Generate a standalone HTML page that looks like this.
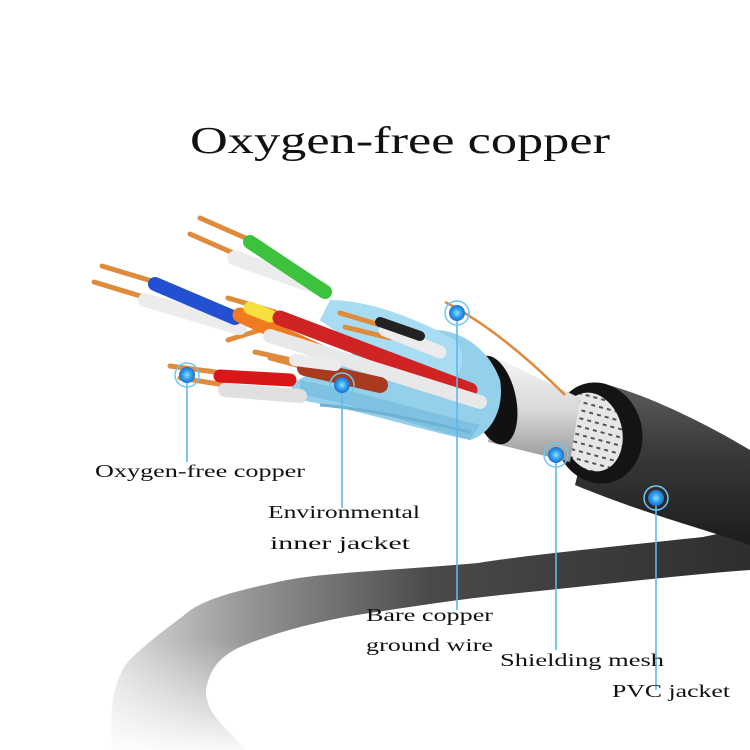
<!DOCTYPE html>
<html><head><meta charset="utf-8"><style>
html,body{margin:0;padding:0;background:#fff;}
svg{display:block;}
text{font-family:"Liberation Serif","DejaVu Serif",serif;fill:#111;}
</style></head><body>
<svg width="750" height="750" viewBox="0 0 750 750" xmlns="http://www.w3.org/2000/svg">
<defs>
<linearGradient id="band" x1="750" y1="0" x2="110" y2="0" gradientUnits="userSpaceOnUse">
<stop offset="0" stop-color="#2e2e2e"/><stop offset="0.5" stop-color="#4a4a4a"/><stop offset="0.8" stop-color="#9a9a9a"/><stop offset="1" stop-color="#e0e0e0"/>
</linearGradient>
<linearGradient id="fade" x1="0" y1="640" x2="0" y2="750" gradientUnits="userSpaceOnUse">
<stop offset="0" stop-color="#fff" stop-opacity="0"/><stop offset="1" stop-color="#fff" stop-opacity="0.95"/>
</linearGradient>
<linearGradient id="tube" x1="0" y1="390" x2="0" y2="540" gradientUnits="userSpaceOnUse">
<stop offset="0" stop-color="#5a5a5a"/><stop offset="0.4" stop-color="#3a3a3a"/><stop offset="1" stop-color="#1e1e1e"/>
</linearGradient>
<linearGradient id="silver" x1="0" y1="360" x2="0" y2="460" gradientUnits="userSpaceOnUse">
<stop offset="0" stop-color="#f4f4f4"/><stop offset="0.5" stop-color="#d8d8d8"/><stop offset="1" stop-color="#9a9a9a"/>
</linearGradient>
<radialGradient id="dot"><stop offset="0" stop-color="#8fe0ff"/><stop offset="0.6" stop-color="#2a9be8"/><stop offset="1" stop-color="#1f6fd0"/></radialGradient>
<pattern id="mesh" width="8" height="8" patternUnits="userSpaceOnUse" patternTransform="rotate(30)">
<rect width="8" height="8" fill="#e6e6e6"/><rect x="1" y="3" width="4" height="2" fill="#555"/>
</pattern>
</defs>

<path d="M750 527 L703 537 C600 548 520 556 478 563 C400 570 330 572 287 580 C230 592 200 600 182 617 C150 640 128 660 124 667 C112 690 110 710 112 750 L245 750 C230 730 205 715 206 690 C210 665 225 652 250 643 C290 628 320 622 345 617 C420 605 470 598 510 594 C600 585 680 575 750 570 Z" fill="url(#band)"/>
<rect x="0" y="640" width="750" height="110" fill="url(#fade)"/>

<path d="M600 383 C640 392 700 420 750 450 L750 545 C700 528 640 512 575 485 Z" fill="url(#tube)"/>
<ellipse cx="598" cy="433" rx="44" ry="51" transform="rotate(-15 598 433)" fill="#141414"/>
<ellipse cx="592" cy="432" rx="30" ry="40" transform="rotate(-15 592 432)" fill="url(#mesh)"/>

<path d="M497 358 L580 398 L570 462 L488 442 Z" fill="url(#silver)"/>
<ellipse cx="494" cy="400" rx="22" ry="45" transform="rotate(-12 494 400)" fill="#111"/>

<path d="M290 385 C330 360 380 340 430 330 C460 328 490 350 500 380 C505 410 490 435 470 440 C420 430 360 410 300 400 Z" fill="#94d0ea"/>
<path d="M330 300 C370 300 420 320 455 340 C470 360 460 380 440 385 C400 370 360 350 320 320 Z" fill="#a7dcf2"/>
<path d="M300 395 C340 400 400 420 470 440 L480 425 C420 410 360 392 300 380 Z" fill="#7fc1e0"/>
<path d="M320 405 C360 408 420 420 470 432" stroke="#6fb2d4" stroke-width="3" fill="none"/>

<g stroke="#e08a3c" stroke-width="5" stroke-linecap="round">
<line x1="200" y1="218" x2="250" y2="240"/><line x1="190" y1="234" x2="240" y2="256"/>
<line x1="102" y1="266" x2="155" y2="282"/><line x1="94" y1="282" x2="147" y2="298"/>
<line x1="228" y1="298" x2="275" y2="312"/><line x1="200" y1="312" x2="245" y2="325"/>
<line x1="170" y1="366" x2="215" y2="372"/><line x1="180" y1="378" x2="225" y2="385"/>
<line x1="255" y1="352" x2="300" y2="362"/><line x1="270" y1="358" x2="315" y2="370"/>
<line x1="340" y1="313" x2="380" y2="325"/><line x1="345" y1="327" x2="390" y2="338"/>
<line x1="228" y1="340" x2="260" y2="330"/>
</g>
<path d="M445 302 C480 320 520 350 565 395" stroke="#e08a3c" stroke-width="2.5" fill="none"/>

<g stroke-linecap="round" fill="none">
<line x1="235" y1="258" x2="325" y2="290" stroke="#ececec" stroke-width="15"/>
<line x1="250" y1="242" x2="325" y2="292" stroke="#3cc23c" stroke-width="14"/>
<line x1="145" y1="300" x2="240" y2="328" stroke="#ececec" stroke-width="14"/>
<line x1="155" y1="284" x2="235" y2="318" stroke="#2250d0" stroke-width="14"/>
<line x1="240" y1="315" x2="320" y2="352" stroke="#f07a20" stroke-width="15"/>
<line x1="250" y1="308" x2="270" y2="316" stroke="#f5e040" stroke-width="13"/>
<line x1="280" y1="318" x2="470" y2="390" stroke="#d02424" stroke-width="15"/>
<line x1="270" y1="336" x2="480" y2="402" stroke="#e8e8e8" stroke-width="14"/>
<line x1="385" y1="330" x2="440" y2="352" stroke="#ececec" stroke-width="13"/>
<line x1="380" y1="322" x2="420" y2="336" stroke="#222" stroke-width="10"/>
<line x1="305" y1="368" x2="380" y2="385" stroke="#a83a20" stroke-width="16"/>
<line x1="295" y1="360" x2="335" y2="365" stroke="#ececec" stroke-width="12"/>
<line x1="220" y1="376" x2="290" y2="380" stroke="#d81818" stroke-width="13"/>
<line x1="225" y1="390" x2="300" y2="396" stroke="#e0e0e0" stroke-width="14"/>
</g>

<g stroke="#5fb6ee" stroke-width="1.6">
<line x1="187" y1="376" x2="187" y2="462"/>
<line x1="342" y1="386" x2="342" y2="508"/>
<line x1="457" y1="313" x2="457" y2="610"/>
<line x1="556" y1="455" x2="556" y2="650"/>
<line x1="656" y1="498" x2="656" y2="690"/>
</g>
<g>
<circle cx="187" cy="375" r="12" fill="none" stroke="#6cc8f0" stroke-width="1.5"/><circle cx="187" cy="375" r="8" fill="url(#dot)"/>
<circle cx="342" cy="385" r="12" fill="none" stroke="#6cc8f0" stroke-width="1.5"/><circle cx="342" cy="385" r="8" fill="url(#dot)"/>
<circle cx="457" cy="313" r="12" fill="none" stroke="#6cc8f0" stroke-width="1.5"/><circle cx="457" cy="313" r="8" fill="url(#dot)"/>
<circle cx="556" cy="455" r="12" fill="none" stroke="#6cc8f0" stroke-width="1.5"/><circle cx="556" cy="455" r="8" fill="url(#dot)"/>
<circle cx="656" cy="498" r="12" fill="none" stroke="#6cc8f0" stroke-width="1.5"/><circle cx="656" cy="498" r="8" fill="url(#dot)"/>
</g>

<text x="190" y="153" font-size="38" textLength="420" lengthAdjust="spacingAndGlyphs">Oxygen-free copper</text>
<text x="95" y="477" font-size="18" textLength="210" lengthAdjust="spacingAndGlyphs">Oxygen-free copper</text>
<text x="268" y="518" font-size="18" textLength="152" lengthAdjust="spacingAndGlyphs">Environmental</text>
<text x="270" y="549" font-size="18" textLength="140" lengthAdjust="spacingAndGlyphs">inner jacket</text>
<text x="366" y="621" font-size="18" textLength="127" lengthAdjust="spacingAndGlyphs">Bare copper</text>
<text x="366" y="651" font-size="18" textLength="127" lengthAdjust="spacingAndGlyphs">ground wire</text>
<text x="500" y="666" font-size="18" textLength="164" lengthAdjust="spacingAndGlyphs">Shielding mesh</text>
<text x="612" y="697" font-size="18" textLength="118" lengthAdjust="spacingAndGlyphs">PVC jacket</text>
</svg>
</body></html>
